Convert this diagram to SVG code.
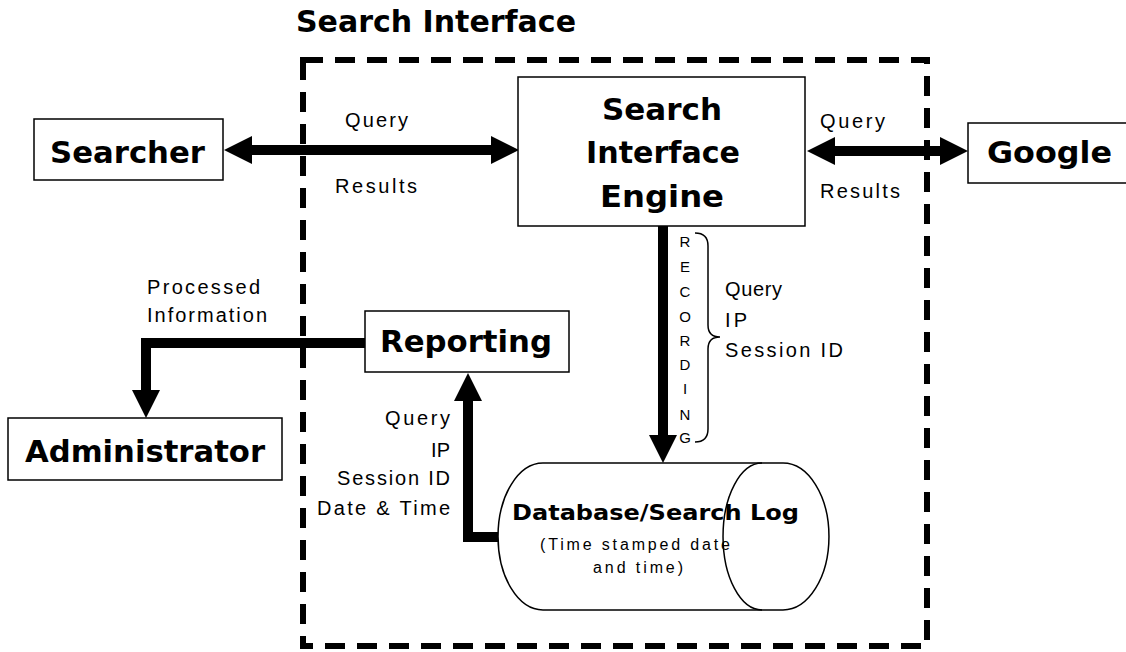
<svg xmlns="http://www.w3.org/2000/svg" width="1126" height="652" viewBox="0 0 1126 652">
  <style>
    .box { fill: #fff; stroke: #000; stroke-width: 1.5; }
    .big { font-family: "DejaVu Sans", "Liberation Sans", sans-serif; font-weight: bold; font-size: 31px; fill: #000; }
    .title { font-family: "DejaVu Sans", "Liberation Sans", sans-serif; font-weight: bold; font-size: 30px; fill: #000; }
    .dbname { font-family: "DejaVu Sans", "Liberation Sans", sans-serif; font-weight: bold; font-size: 22px; fill: #000; }
    .lbl { font-family: "Liberation Sans", Arial, sans-serif; font-size: 20px; fill: #000; }
    .small { font-family: "Liberation Sans", Arial, sans-serif; font-size: 16px; fill: #000; }
    .letter { font-family: "Liberation Sans", Arial, sans-serif; font-size: 15px; fill: #000; text-anchor: middle; }
    .flow { fill: none; stroke: #000; stroke-width: 10; stroke-linejoin: miter; }
    .thin { fill: none; stroke: #000; stroke-width: 1.5; }
  </style>
  <defs>
    <marker id="head" viewBox="0 0 28 28" markerWidth="28" markerHeight="28" refX="1" refY="14" markerUnits="userSpaceOnUse" orient="auto-start-reverse">
      <path d="M0,0 L28,14 L0,28 Z" fill="#000"/>
    </marker>
  </defs>
  <rect width="1126" height="652" fill="#fff"/>

  <!-- boundary of the search interface -->
  <g id="boundary">
    <text x="296" y="32" class="title" textLength="280" lengthAdjust="spacingAndGlyphs">Search Interface</text>
    <rect x="303" y="60" width="624" height="586" fill="none" stroke="#000" stroke-width="6" stroke-dasharray="20 12"/>
  </g>

  <!-- connectors -->
  <g id="connectors">
    <path class="flow" d="M251,150 H492" marker-start="url(#head)" marker-end="url(#head)"/>
    <path class="flow" d="M834,151 H941" marker-start="url(#head)" marker-end="url(#head)"/>
    <path class="flow" d="M663,226 V436" marker-end="url(#head)"/>
    <path class="flow" d="M365,343 H146 V391" marker-end="url(#head)"/>
    <path class="flow" d="M499,537 H468 V400" marker-end="url(#head)"/>
    <!-- brace grouping the recorded fields -->
    <path class="thin" d="M695,233 Q708,233 708,246 V325 Q708,337 720,337 Q708,337 708,349 V429 Q708,442 695,442"/>
  </g>

  <!-- connector labels -->
  <g id="labels">
    <text x="345" y="127" class="lbl" textLength="63" lengthAdjust="spacing">Query</text>
    <text x="335" y="193" class="lbl" textLength="82" lengthAdjust="spacing">Results</text>
    <text x="820" y="128" class="lbl" textLength="65" lengthAdjust="spacing">Query</text>
    <text x="820" y="198" class="lbl" textLength="80" lengthAdjust="spacing">Results</text>
    <text x="147" y="294" class="lbl" textLength="113" lengthAdjust="spacing">Processed</text>
    <text x="147" y="322" class="lbl" textLength="120" lengthAdjust="spacing">Information</text>
    <text x="725" y="296" class="lbl" textLength="57" lengthAdjust="spacing">Query</text>
    <text x="725" y="327" class="lbl" textLength="22" lengthAdjust="spacing">IP</text>
    <text x="725" y="357" class="lbl" textLength="118" lengthAdjust="spacing">Session ID</text>
    <g text-anchor="end">
      <text x="450" y="425" class="lbl" textLength="65" lengthAdjust="spacing">Query</text>
      <text x="450" y="457" class="lbl" textLength="19" lengthAdjust="spacing">IP</text>
      <text x="450" y="485" class="lbl" textLength="113" lengthAdjust="spacing">Session ID</text>
      <text x="450" y="515" class="lbl" textLength="133" lengthAdjust="spacing">Date &amp; Time</text>
    </g>
    <text x="685" y="247" class="letter">R</text>
    <text x="685" y="272" class="letter">E</text>
    <text x="685" y="297" class="letter">C</text>
    <text x="685" y="322" class="letter">O</text>
    <text x="685" y="346" class="letter">R</text>
    <text x="685" y="370" class="letter">D</text>
    <text x="685" y="394" class="letter">I</text>
    <text x="685" y="420" class="letter">N</text>
    <text x="685" y="443" class="letter">G</text>
  </g>

  <g id="searcher">
    <rect class="box" x="34" y="119" width="189" height="61"/>
    <text x="50" y="163" class="big" textLength="155" lengthAdjust="spacingAndGlyphs">Searcher</text>
  </g>

  <g id="engine">
    <rect class="box" x="518" y="77" width="287" height="149"/>
    <text x="602" y="120" class="big" textLength="120" lengthAdjust="spacingAndGlyphs">Search</text>
    <text x="586" y="163" class="big" textLength="154" lengthAdjust="spacingAndGlyphs">Interface</text>
    <text x="600" y="207" class="big" textLength="124" lengthAdjust="spacingAndGlyphs">Engine</text>
  </g>

  <g id="google">
    <rect class="box" x="968" y="123" width="170" height="60"/>
    <text x="987" y="163" class="big" textLength="125" lengthAdjust="spacingAndGlyphs">Google</text>
  </g>

  <g id="reporting">
    <rect class="box" x="365" y="311" width="204" height="61"/>
    <text x="380" y="352" class="big" textLength="172" lengthAdjust="spacingAndGlyphs">Reporting</text>
  </g>

  <g id="administrator">
    <rect class="box" x="8" y="418" width="274" height="62"/>
    <text x="25" y="462" class="big" textLength="240" lengthAdjust="spacingAndGlyphs">Administrator</text>
  </g>

  <g id="database">
    <path class="box" d="M543,463 H783 A46,73.5 0 0 1 783,610 H543 A45,73.5 0 0 1 543,463 Z"/>
    <path class="thin" d="M762,463 A39,73.5 0 0 0 762,610"/>
    <text x="512" y="520" class="dbname" textLength="287" lengthAdjust="spacingAndGlyphs">Database/Search Log</text>
    <text x="540" y="550" class="small" textLength="190" lengthAdjust="spacing">(Time stamped date</text>
    <text x="593" y="573" class="small" textLength="90" lengthAdjust="spacing">and time)</text>
  </g>
</svg>
